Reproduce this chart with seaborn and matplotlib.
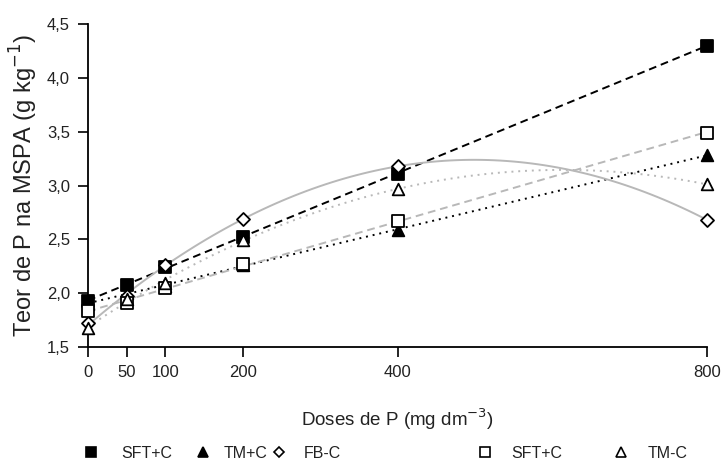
import numpy as np
import pandas as pd
import matplotlib
matplotlib.use("Agg")
import matplotlib.pyplot as plt
from matplotlib.lines import Line2D
import seaborn as sns

# Doses of P (mg dm-3) and P content in shoot dry matter (g kg-1)
doses = [0, 50, 100, 200, 400, 800]
sft_c = [1.93, 2.08, 2.24, 2.52, 3.11, 4.30]
tm_c = [1.90, 2.00, 2.07, 2.26, 2.59, 3.28]
fb_c = [1.72, 1.97, 2.26, 2.69, 3.18, 2.68]
sft_nc = [1.83, 1.91, 2.05, 2.27, 2.67, 3.49]
tm_nc = [1.68, 1.95, 2.09, 2.49, 2.97, 3.01]

series_names = ["SFT+C", "TM+C", "FB-C", "SFT+C", "TM-C"]
x_ticks = [0, 50, 100, 200, 400, 800]
y_ticks = [1.5, 2.0, 2.5, 3.0, 3.5, 4.0, 4.5]
y_tick_labels = ["1,5", "2,0", "2,5", "3,0", "3,5", "4,0", "4,5"]

sns.set_theme(style="white")
plt.rcParams["font.family"] = ["Liberation Sans", "DejaVu Sans"]

fig = plt.figure(figsize=(7.27, 4.66), dpi=100)
ax = fig.add_axes([88 / 727, 1 - 347 / 466, (707 - 88) / 727, (347 - 24) / 466])

gray = "#b8b8b8"
styles = [
    # values, marker, face, line colour, dash style, fit order
    (sft_c, "s", "black", "black", (0, (4, 2.5)), 1),
    (tm_c, "^", "black", "black", (0, (1, 2.5)), 1),
    (fb_c, "D", "white", gray, "-", 2),
    (sft_nc, "s", "white", gray, (0, (4, 2.5)), 1),
    (tm_nc, "^", "white", gray, (0, (1, 2.5)), 2),
]

for vals, mk, face, lc, ls, order in styles:
    df = pd.DataFrame({"dose": doses, "teor": vals})
    sns.regplot(data=df, x="dose", y="teor", order=order, ci=None, scatter=False,
                ax=ax, line_kws=dict(color=lc, lw=1.4, ls=ls, zorder=2))

for vals, mk, face, lc, ls, order in styles:
    df = pd.DataFrame({"dose": doses, "teor": vals})
    size = 44 if mk == "D" else 70
    sns.scatterplot(data=df, x="dose", y="teor", marker=mk, s=size, ax=ax,
                    facecolor=face, edgecolor="black", linewidth=1.3,
                    zorder=3, clip_on=False)

ax.set_xlim(0, 800)
ax.set_ylim(1.5, 4.5)
ax.set_xticks(x_ticks)
ax.set_xticklabels([str(t) for t in x_ticks])
ax.set_yticks(y_ticks)
ax.set_yticklabels(y_tick_labels)
ax.tick_params(axis="both", direction="out", length=7, width=1.2, color="black",
               labelsize=12, labelcolor="#222222", pad=6, left=True, bottom=True)
for side in ("top", "right"):
    ax.spines[side].set_visible(False)
for side in ("left", "bottom"):
    ax.spines[side].set_color("black")
    ax.spines[side].set_linewidth(1.3)

ax.set_xlabel("Doses de P (mg dm$^{-3}$)", fontsize=13.5, color="#222222", labelpad=19)
ax.set_ylabel("Teor de P na MSPA (g kg$^{-1}$)", fontsize=17, color="#222222",
              labelpad=5)

# Legend row under the axis title: (marker, face, marker centre x, gap to text)
legend_entries = [
    ("s", "black", 91, 30), ("^", "black", 203, 21), ("D", "white", 279, 25),
    ("s", "white", 485, 26), ("^", "white", 621, 27),
]
fs = 11.5
px_per_em = fs * 100 / 72
for (mk, face, xc, gap), name in zip(legend_entries, series_names):
    h = Line2D([], [], marker=mk, linestyle="none", markersize=7 if mk != "D" else 5,
               markerfacecolor=face, markeredgecolor="black", markeredgewidth=1.2)
    hl = 0.8
    pad = (gap - hl * px_per_em / 2) / px_per_em
    fig.legend([h], [name], loc="center left",
               bbox_to_anchor=((xc - hl * px_per_em / 2) / 727, 1 - 453 / 466),
               frameon=False, handlelength=hl, handletextpad=pad,
               borderpad=0, borderaxespad=0, fontsize=fs, labelcolor="#222222")

fig.savefig("out.png", dpi=100)
